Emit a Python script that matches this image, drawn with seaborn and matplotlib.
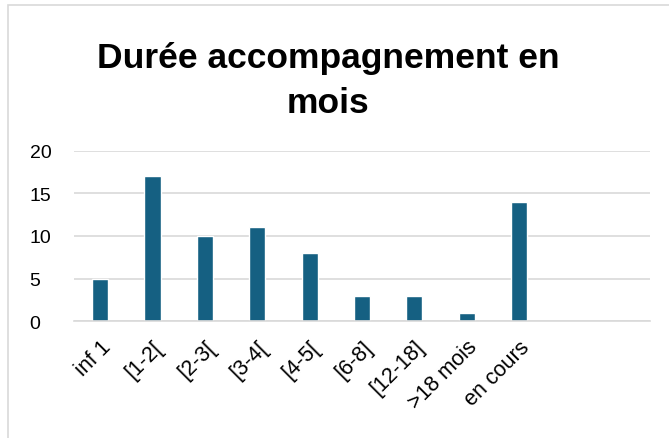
import matplotlib
matplotlib.use("Agg")
import matplotlib.pyplot as plt
import seaborn as sns
import pandas as pd
from matplotlib.patches import Rectangle

# Durée d'accompagnement (en mois)
categories = ["inf 1", "[1-2[", "[2-3[", "[3-4[", "[4-5[", "[6-8]", "[12-18]", ">18 mois", "en cours"]
effectifs = [5, 17, 10, 11, 8, 3, 3, 1, 14]

df = pd.DataFrame({"duree": categories, "n": effectifs})

sns.set_theme(style="white")
plt.rcParams["font.family"] = ["Liberation Sans", "DejaVu Sans"]
plt.rcParams["text.color"] = "black"

fig = plt.figure(figsize=(6.69, 4.39), dpi=100)
ax = fig.add_axes([0.1106, 0.2665, 0.861, 0.3873])

sns.barplot(data=df, x="duree", y="n", color="#156082", width=0.31,
            saturation=1, ax=ax)

ax.set_xlim(-0.5, 10.5)
ax.set_ylim(0, 20)
ax.set_yticks([0, 5, 10, 15, 20])
ax.yaxis.grid(True, color="#d9d9d9", linewidth=1.2)
ax.set_axisbelow(True)
for s in ["top", "right", "left"]:
    ax.spines[s].set_visible(False)
ax.spines["bottom"].set_color("#d9d9d9")
ax.spines["bottom"].set_linewidth(1.2)
ax.set_xlabel("")
ax.set_ylabel("")
ax.tick_params(axis="y", length=0, labelsize=14, colors="black", pad=32)
ax.tick_params(axis="x", length=0, labelsize=15.5, colors="black", pad=11)
for t in ax.get_yticklabels():
    t.set_horizontalalignment("left")
plt.setp(ax.get_xticklabels(), rotation=45, ha="right", rotation_mode="anchor")

fig.text(0.491, 0.816, "Durée accompagnement en\nmois", ha="center", va="center",
         fontsize=25.5, fontweight="bold", linespacing=1.46, color="black")

# cadre du graphique
fig.patches.append(Rectangle((8 / 669, -0.1), 1, 1.1 - 6 / 439, transform=fig.transFigure,
                             fill=False, edgecolor="#d9d9d9", linewidth=1.2))

fig.savefig("out.png", dpi=100)
